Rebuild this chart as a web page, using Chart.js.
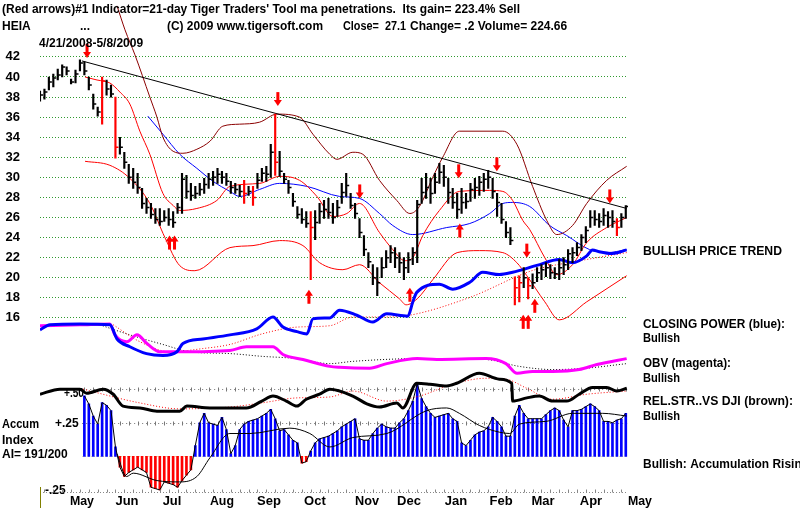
<!DOCTYPE html>
<html>
<head>
<meta charset="utf-8">
<script src="https://cdn.jsdelivr.net/npm/chart.js@4.4.1/dist/chart.umd.min.js"></script>
<style>
  body { margin: 0; background: #fff; }
  #myChart { display: block; }
</style>
</head>
<body>
<canvas id="myChart" width="800" height="510"></canvas>
<script>
// ---- data (day index = trading days since 4/21/2008) ----
const barStep = 2;
const priceHigh = [38.6,38.8,40,40.3,40.8,41.2,41,39.8,40.7,41.7,41.5,40,38.3,37,40,39.7,39.2,38,34,32.5,31.3,30.9,30.4,28.9,27.9,27.4,26.9,26.9,26.7,26.9,26.6,27.4,30.4,30.2,29.4,29.1,29.4,29.9,30.4,30.6,30.9,30.6,30.4,29.6,29.4,29.2,29.7,29.1,29.1,30.4,30.9,31.1,33.3,36.3,32.6,30.4,29.7,28.4,27.1,26.9,26.6,26.6,26.7,27.4,27.7,27.9,27.4,27.7,29.4,30.4,28.4,27.4,25.9,24.2,22.5,21.3,21,22,22.7,23.2,23,22.5,22,22.5,23,27.7,29.9,30.4,29.9,30.4,31.4,31.2,29.9,28.9,28.4,28.9,28.4,29.4,29.9,30.1,30.4,30.7,29.9,28.4,27.4,25.6,25,20.1,20.2,21,20,20.4,21,21.3,21.5,21.3,21,21.8,22,22.8,23,23.5,24.3,25.1,26.7,26.7,26.4,26.9,26.6,26.7,25.9,26.4,27.2];
const priceLow = [37.6,37.8,38.7,39,39.7,40,40.2,39.3,39.4,40.6,40.2,38.7,36.8,36.1,35.3,38.2,38,31.9,32.3,30.9,29.4,28.9,28.4,26.9,26.4,25.9,25.4,25.2,25.6,25.2,25,26.4,26.4,27.9,27.7,27.9,28.2,28.4,28.9,29.2,29.4,29.4,29.2,28.4,28.4,28.1,27.4,28.2,27.2,28.9,29.6,29.6,30,30.2,30.1,29.4,28.4,27.1,25.9,25.4,25,19.8,23.8,25.4,25.9,25.9,25.4,26.1,27.4,28.1,26.9,25.9,24,22.2,21,19.3,18.2,20,21,21.5,21,20.5,19.8,20.5,21.3,21.5,27.4,27.9,27.4,28.4,29.4,29.1,27.4,26.9,25.9,26.4,26.9,27.6,27.9,28.2,28.6,28.9,27.9,26.1,25.4,24,23.3,17.3,17.6,19,17.9,18.9,19.6,19.8,20.1,19.9,19.9,19.8,20.3,20.8,21.5,22.2,22.7,23.5,25,25.2,25,25.2,25,25,24.2,25,25.9];
const priceClose = [38.2,38.5,39.5,39.9,40.2,41,40.6,39.5,40.3,41.4,40.6,39.2,37.3,36.5,39.6,38.8,38.3,33,33,31.5,30,29.5,29,27.4,27,26.3,25.8,25.6,26,25.8,25.5,27,29.8,28.6,28.2,28.4,28.8,29.3,29.8,30,30.3,30,29.6,29,28.8,28.6,28.4,28.6,28,29.7,30.4,30.3,32.5,31.5,30.6,29.8,29,27.6,26.3,25.8,25.4,25,25.5,26.6,26.8,26.5,26,27,28.5,29.2,27.2,26.4,24.5,22.8,21.6,20,19.5,21,22,22.5,22,21.5,21,21.8,22.5,27.3,28.5,29,28.4,29.5,30.5,30,28.5,27.5,26.8,27.5,27.6,28.8,29,29.5,29.8,30,28.6,27.5,25.8,24.5,23.7,19,19.5,20,19.2,19.5,20.5,20.8,21,20.5,20.4,21,21.3,22.4,22.5,23,24,24.7,26,25.8,25.6,26.2,26,25.6,25,26,27.1];
const redBars = [14,17,46,48,53,61,107,108,110,130];

const accumIndex = [null,null,null,null,null,null,null,null,null,null,0.45,0.39,0.3,0.24,0.4,0.38,0.34,0.07,-0.08,-0.15,-0.12,-0.1,-0.08,-0.1,-0.12,-0.23,-0.24,-0.25,-0.19,-0.2,-0.21,-0.23,-0.18,-0.14,-0.1,0.08,0.25,0.32,0.25,0.24,0.23,0.29,0.2,0.02,0.08,0.2,0.24,0.26,0.27,0.28,0.3,0.32,0.35,0.28,0.19,0.2,0.16,0.12,0.1,-0.05,-0.04,0.04,0.1,0.13,0.14,0.15,0.17,0.19,0.22,0.24,0.26,0.28,0.13,0.12,0.12,0.17,0.21,0.24,0.22,0.21,0.21,0.25,0.28,0.34,0.41,0.54,0.43,0.37,0.32,0.29,0.3,0.31,0.32,0.28,0.26,0.1,0.08,0.12,0.16,0.18,0.19,0.22,0.29,0.26,0.22,0.15,0.15,0.3,0.38,0.32,0.28,0.28,0.28,0.28,0.31,0.34,0.36,0.34,0.27,0.22,0.34,0.34,0.35,0.37,0.39,0.37,0.34,0.26,0.26,0.25,0.27,0.28,0.32];
const accumMaDays = [34.7,39,42,52.7,63,70.7,76.6,85.6,94.6,112.6,121.6,130.6,141,156.3,174.3,183.3,189,198,207,211.7,216,228,240,253.6,264.4];
const accumMaVals = [0.02,-0.15,-0.125,-0.18,-0.19,-0.15,-0.01,0.17,0.17,0.21,0.17,0.07,0.14,0.17,0.34,0.36,0.32,0.23,0.18,0.17,0.24,0.26,0.32,0.32,0.3];

const ma21Days = [20.3,25.7,31.5,36,40.5,45,49.5,55.4,60,63,70.7,79.7,85.6,99,108,117,124.8,132,138.3,144,153,159,164.4,168,172.5,180,189,202.7,208.6,213,217.6,220.7,227.5,232.9,240,246.4,255.4,264.4];
const ma21Vals = [40,39.7,39.4,38.5,37.3,34.6,32.3,28.4,27.2,26.7,26.9,27.7,29.1,29.4,30.1,29.7,28.1,26.1,26.4,27.4,24.5,22.8,21.7,22,24.2,26.7,28.6,28.7,28.6,27.7,25.7,24.8,22,20.3,21.3,23.5,25,26];
const lowBandDays = [20.3,31.5,40.5,49.5,56.3,63,69.8,85.6,96,108,118.5,126,136.5,144,153,162,165,170,177,188,198,208.6,214.9,219.4,227.5,234,246.4,264.4];
const lowBandVals = [31.6,31.2,29.9,27.4,24,21.2,20.7,23,23.2,23.7,23.2,21.5,20.8,21.3,19.5,17.9,17.3,17.9,19.8,22.5,22.7,22.5,21.5,20.2,17.6,15.8,17.6,20.2];
const upBandDays = [34.7,38.3,42.8,49.5,52.7,55.4,60,64.4,70.7,76.6,82.4,90,99,106.8,117,123,130.6,133.8,141,145.5,153,160.8,166.7,171,177,181.5,189,208.6,214.9,222,228.4,232.9,240,246.4,255.4,264.4];
const upBandVals = [47.1,44.7,42.2,38,36,34,32.6,32.4,32.8,33.6,35.1,35.3,35.5,36.3,36,34.3,32.3,31.8,32.5,32.3,29.7,27.7,26.4,27.1,30,32,34.6,34.6,33.3,29.1,25.7,24.3,25.2,27.4,29.7,31.1];
const ma50Days = [48.6,55.4,63,70.7,78,85.6,90,99,108,120.3,135,144,153,159,168,183.3,193.7,202.7,208.6,213,220.7,229.7,237.4,247.7,255.4,264.4];
const ma50Vals = [36.1,34.3,32.3,30.9,29.6,28.6,28.1,28.8,29.4,29.1,28.1,27.9,26.4,25.2,24.3,25,25.4,26.4,27.4,27.5,27.1,25.2,24.2,22.8,22.5,22.8];
const trendDays = [18.9,264.4];
const trendVals = [41.6,26.9];

const cpDays = [0,4.5,18,31.5,34.7,40.5,48,55.4,61.7,64.4,73.4,85.6,97.7,105,109.5,115.8,120.3,123,130.6,135,142.8,150,156.3,165.8,168,169.8,180,186,193.7,199.5,207,213,223.9,234,240,246.4,249,252,258,264.4];
const cpVals = [35.5,36.6,36.8,36.6,33.5,31.8,30.3,29.9,30.7,32.5,33.5,34.4,35.7,38.3,36.1,35.1,34.6,37.9,38.1,39.8,38.7,37.2,39,38.5,41.6,43.7,45.5,44.4,45.9,48.1,47.6,48.1,49.6,50.9,50.2,51.7,53,52.6,52.2,53];
const cpMaDays = [33,45,58.6,73.4,85.6,100,115.8,130.6,141,156,166.7,193.7,222,243,264.4];
const cpMaVals = [36.6,32.9,30.7,31.4,32.3,34.6,36.1,36.4,38.3,38.3,38.7,42.6,48.5,50.6,52.4];
const obvDays = [0,18,31.5,33.8,39.2,43.7,48.2,54,63,85.6,93,105,109.5,118.5,130.6,135,148.6,156.3,170,178.8,201,210,215,222,231,243,251,264.4];
const obvVals = [36.4,36.6,36.8,34.4,32.9,34.4,32.5,30.7,30.7,31,31.8,31.8,30.1,29,27.5,27.3,27.1,28.1,29.2,29,29.2,28.1,26,26.4,26.4,26.8,27.9,29.2];
const obvMaDays = [25.7,40.5,55.4,67.6,85.6,100,115.8,130.6,141,171,201,216,231,246,264.4];
const obvMaVals = [36.8,34.4,32.3,30.7,30.3,29.7,29.2,28.1,28.6,29.2,29,27.5,26.8,27.1,28.1];
const rsDays = [0,9,18,21,28.4,33,37.4,45,52.7,63,66.2,76.6,93,100,105,111,115.8,120,126,130.6,141,147.3,153,160.8,163.5,169.8,175.7,183.3,187.8,198,207,212.6,213,219.4,225,231,237.4,243,249,255.4,260,264.4];
const rsVals = [21.4,22.5,22.5,21.6,22.5,21.4,18.8,18.4,17.7,17.7,18.8,18.4,18.4,19.9,21,19.9,18.8,20.3,21.4,22.5,21,19.3,18.6,19.5,18.4,23.8,23.6,23.2,23.8,26,24.7,23.8,19.9,20.6,21,19.9,19.9,21.4,22.9,22.9,22.1,22.7];
const rsMaDays = [19.4,45,63,85.6,100,115.8,130.6,141,156.3,171,186,201,210,219.4,231,246.4,264.4];
const rsMaVals = [22.5,19.5,18.2,18.6,19.5,20.6,20.8,22.1,19.9,21,23.6,24.9,24.7,22.7,20.3,21.4,22.1];

const downArrowDays = [21.2,107.2,144.1,188.7,205.9,219.4,256.8];
const downArrowPrices = [41.9,37.1,27.9,29.9,30.6,22,27.4];
const upArrowDays = [59.5,121.2,166.7,189.2,218.9,223];
const upArrowPrices = [24.2,18.8,19,25.4,16.3,17.9];
const upArrowDouble = [true,false,false,false,true,false];

const priceTicks = [42,40,38,36,34,32,30,28,26,24,22,20,18,16];
const monthLabels = ["May","Jun","Jul","Aug","Sep","Oct","Nov","Dec","Jan","Feb","Mar","Apr","May"];
const monthDays = [18.9,39.2,59.5,82,103.2,123.9,147.4,166.3,187.5,207.8,226.7,248.3,270.4];

// ---- helpers ----
const FONT = '"Liberation Sans", Arial, sans-serif';
function pts(days, vals) {
  return days.map((d, i) => ({ x: d, y: vals[i] }));
}
function lineSet(days, vals, color, width, axis, order, dash) {
  return {
    type: "line",
    data: pts(days, vals),
    borderColor: color,
    borderWidth: width,
    borderDash: dash || [],
    pointRadius: 0,
    cubicInterpolationMode: "monotone",
    fill: false,
    yAxisID: axis,
    order: order,
  };
}
function txt(ctx, s, x, y, size, maxW, align) {
  ctx.font = "bold " + size + "px " + FONT;
  ctx.textAlign = align || "left";
  ctx.textBaseline = "alphabetic";
  ctx.fillStyle = "#000";
  if (maxW) ctx.fillText(s, x, y, maxW);
  else ctx.fillText(s, x, y);
}
function arrow(ctx, x, yTip, dir) {
  // dir 1: pointing down, -1: pointing up
  ctx.fillStyle = "#ff0000";
  ctx.fillRect(x - 1.5, yTip - dir * 14, 3, dir * 9);
  ctx.beginPath();
  ctx.moveTo(x - 4, yTip - dir * 6);
  ctx.lineTo(x + 4, yTip - dir * 6);
  ctx.lineTo(x, yTip);
  ctx.closePath();
  ctx.fill();
}

const overlay = {
  id: "overlay",
  beforeDatasetsDraw(chart) {
    const ctx = chart.ctx;
    const xs = chart.scales.x;
    const acc = chart.scales.acc;
    ctx.save();
    // accumulation guide lines
    [0.5, 0.25].forEach((v) => {
      const y = Math.round(acc.getPixelForValue(v)) + 0.5;
      ctx.strokeStyle = "#777";
      ctx.lineWidth = 1;
      ctx.setLineDash([1, 3]);
      ctx.beginPath();
      ctx.moveTo(xs.getPixelForValue(19), y);
      ctx.lineTo(chart.chartArea.right, y);
      ctx.stroke();
      ctx.setLineDash([]);
      for (let d = 20; d <= 264; d += 4) {
        const x = Math.round(xs.getPixelForValue(d)) + 0.5;
        ctx.beginPath();
        ctx.moveTo(x, y - 2);
        ctx.lineTo(x, y + 2);
        ctx.stroke();
      }
    });
    const y0 = Math.round(acc.getPixelForValue(0)) + 0.5;
    ctx.strokeStyle = "#e6dc96";
    ctx.setLineDash([1, 2]);
    ctx.beginPath();
    ctx.moveTo(xs.getPixelForValue(19), y0);
    ctx.lineTo(chart.chartArea.right, y0);
    ctx.stroke();
    ctx.restore();
  },
  afterDatasetsDraw(chart) {
    const ctx = chart.ctx;
    const xs = chart.scales.x;
    const ys = chart.scales.y;
    ctx.save();
    downArrowDays.forEach((d, i) => {
      arrow(ctx, xs.getPixelForValue(d), ys.getPixelForValue(downArrowPrices[i]), 1);
    });
    upArrowDays.forEach((d, i) => {
      const x = xs.getPixelForValue(d);
      const y = ys.getPixelForValue(upArrowPrices[i]);
      if (upArrowDouble[i]) {
        arrow(ctx, x - 2.5, y, -1);
        arrow(ctx, x + 2.5, y, -1);
      } else {
        arrow(ctx, x, y, -1);
      }
    });
    ctx.restore();
  },
  afterDraw(chart) {
    const ctx = chart.ctx;
    const xs = chart.scales.x;
    const area = chart.chartArea;
    ctx.save();
    // header
    txt(ctx, "(Red arrows)#1 Indicator=21-day Tiger Traders' Tool ma penetrations.  Its gain= 223.4% Sell", 2, 13, 12, 518);
    txt(ctx, "HEIA", 2, 30, 12, 29);
    txt(ctx, "...", 80, 30, 12, 15);
    txt(ctx, "(C) 2009 www.tigersoft.com", 167, 30, 12, 156);
    txt(ctx, "Close=  27.1", 343, 30, 12, 63);
    txt(ctx, "Change= .2 Volume= 224.66", 410, 30, 12, 175);
    txt(ctx, "4/21/2008-5/8/2009", 39, 47, 12, 120);

    // right side notes
    txt(ctx, "BULLISH PRICE TREND", 643, 255, 13, 139);
    txt(ctx, "CLOSING POWER (blue):", 643, 328, 13, 142);
    txt(ctx, "Bullish", 643, 342, 13, 37);
    txt(ctx, "OBV (magenta):", 643, 367, 13, 88);
    txt(ctx, "Bullish", 643, 382, 13, 37);
    txt(ctx, "REL.STR..VS DJI (brown):", 643, 405, 13, 150);
    txt(ctx, "Bullish", 643, 420, 13, 37);
    txt(ctx, "Bullish: Accumulation Rising", 643, 468, 13, 166);

    // accumulation labels
    txt(ctx, "Accum", 2, 428, 12, 37);
    txt(ctx, "Index", 2, 444, 12, 32);
    txt(ctx, "AI= 191/200", 2, 458, 12, 71);
    const acc = chart.scales.acc;
    txt(ctx, "+.50", 64, acc.getPixelForValue(0.5) + 8, 12, 20);
    txt(ctx, "+.25", 55, acc.getPixelForValue(0.25) + 4, 12, 25);
    txt(ctx, "-.25", 45, acc.getPixelForValue(-0.25) + 4, 12, 32);

    // bottom tick row and month names
    const yb = area.bottom + 0.5;
    ctx.strokeStyle = "#888";
    ctx.lineWidth = 1;
    ctx.setLineDash([1, 2]);
    ctx.beginPath();
    ctx.moveTo(area.left, yb);
    ctx.lineTo(area.right, yb);
    ctx.stroke();
    ctx.setLineDash([]);
    for (let d = 2; d <= 264; d += 4) {
      const x = Math.round(xs.getPixelForValue(d)) + 0.5;
      ctx.beginPath();
      ctx.moveTo(x, yb - 3);
      ctx.lineTo(x, yb);
      ctx.stroke();
    }
    ctx.strokeStyle = "#808000";
    ctx.beginPath();
    ctx.moveTo(area.left + 0.5, 487);
    ctx.lineTo(area.left + 0.5, 508);
    ctx.stroke();
    monthLabels.forEach((m, i) => {
      txt(ctx, m, xs.getPixelForValue(monthDays[i]), 505, 13, 24, "center");
    });
    ctx.restore();
  },
};

// ---- datasets ----
const barColors = priceLow.map((v, i) => (redBars.includes(i) ? "#ff0000" : "#000000"));
const accColors = accumIndex.map((v) => (v !== null && v < 0 ? "#ff0000" : "#0000ff"));

var ctx = document.getElementById("myChart").getContext("2d");
var myChart = new Chart(ctx, {
  type: "line",
  data: {
    datasets: [
      {
        type: "line",
        data: priceClose.map((c, i) => ({ x: i * barStep, y: c })),
        showLine: false,
        pointStyle: "dash",
        pointRadius: 3,
        pointBorderWidth: 1.5,
        pointBorderColor: barColors,
        yAxisID: "y",
        order: 0,
      },
      {
        type: "bar",
        data: priceLow.map((l, i) => ({ x: i * barStep, y: [l, priceHigh[i]] })),
        backgroundColor: barColors,
        barThickness: 1.5,
        grouped: false,
        yAxisID: "y",
        order: 1,
      },
      lineSet(cpDays, cpVals, "#0000ff", 3, "ind", 2),
      lineSet(obvDays, obvVals, "#ff00ff", 3, "ind", 2),
      lineSet(rsDays, rsVals, "#000000", 3, "ind", 2),
      lineSet(trendDays, trendVals, "#000000", 1, "y", 3),
      lineSet(ma21Days, ma21Vals, "#ff0000", 1, "y", 3),
      lineSet(lowBandDays, lowBandVals, "#ff0000", 1, "y", 3),
      lineSet(upBandDays, upBandVals, "#8b0000", 1, "y", 3),
      lineSet(ma50Days, ma50Vals, "#0000ff", 1, "y", 3),
      lineSet(cpMaDays, cpMaVals, "#ff0000", 1, "ind", 4, [1, 2]),
      lineSet(obvMaDays, obvMaVals, "#000000", 1, "ind", 4, [1, 2]),
      lineSet(rsMaDays, rsMaVals, "#ff0000", 1, "ind", 4, [1, 2]),
      lineSet(accumMaDays, accumMaVals, "#000000", 1, "acc", 2),
      {
        type: "line",
        data: accumIndex.map((v, i) => ({ x: i * barStep, y: v })),
        borderColor: "#000000",
        borderWidth: 1,
        pointRadius: 0,
        spanGaps: false,
        yAxisID: "acc",
        order: 2,
      },
      {
        type: "bar",
        data: accumIndex.map((v, i) => ({ x: i * barStep, y: v })),
        backgroundColor: accColors,
        barThickness: 2,
        grouped: false,
        yAxisID: "acc",
        order: 5,
      },
    ],
  },
  options: {
    responsive: false,
    animation: false,
    events: [],
    layout: { padding: { left: 0, right: 172, top: 0, bottom: 18 } },
    plugins: { legend: { display: false }, tooltip: { enabled: false } },
    scales: {
      x: { type: "linear", min: 0, max: 265, offset: false, display: false },
      y: {
        position: "left",
        min: -1.35,
        max: 47.123,
        afterBuildTicks: (scale) => {
          scale.ticks = priceTicks.map((v) => ({ value: v }));
        },
        afterFit: (scale) => {
          scale.width = 40;
          scale.paddingTop = 0;
          scale.paddingBottom = 0;
        },
        grid: { color: "#2f9a2f", lineWidth: 1, drawTicks: false },
        border: { display: false, dash: [1, 2] },
        ticks: {
          padding: 20,
          color: "#000",
          font: { family: FONT, size: 13, weight: "bold" },
        },
      },
      ind: { type: "linear", min: 0, max: 106.5, display: false },
      acc: { type: "linear", min: -0.265, max: 3.353, display: false },
    },
  },
  plugins: [overlay],
});
</script>
</body>
</html>
